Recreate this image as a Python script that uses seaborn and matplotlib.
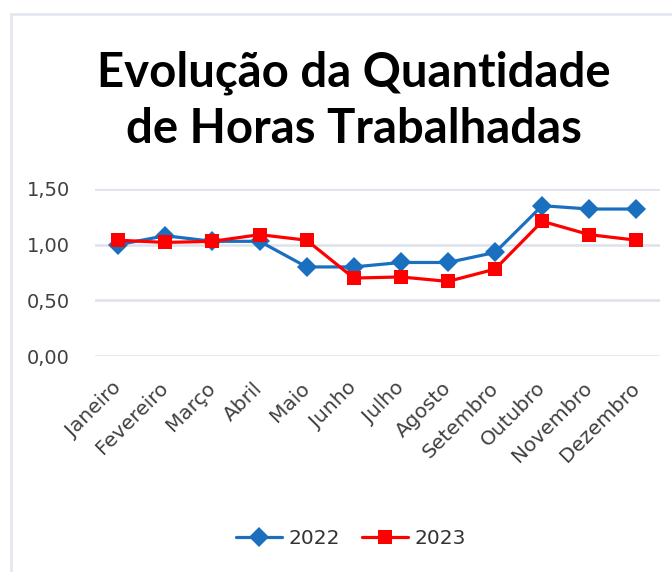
import pandas as pd
import matplotlib
matplotlib.use("Agg")
import matplotlib.pyplot as plt
import seaborn as sns
from matplotlib.patches import Rectangle

# =========================
# dados
# =========================
meses = ["Janeiro", "Fevereiro", "Março", "Abril", "Maio", "Junho",
         "Julho", "Agosto", "Setembro", "Outubro", "Novembro", "Dezembro"]
horas_2022 = [1.00, 1.08, 1.03, 1.03, 0.80, 0.80, 0.84, 0.84, 0.93, 1.35, 1.32, 1.32]
horas_2023 = [1.04, 1.02, 1.03, 1.09, 1.04, 0.70, 0.71, 0.67, 0.78, 1.21, 1.09, 1.04]
anos = ["2022", "2023"]
yticks = [0.0, 0.5, 1.0, 1.5]

df = pd.DataFrame({
    "mes": meses * 2,
    "valor": horas_2022 + horas_2023,
    "ano": [anos[0]] * 12 + [anos[1]] * 12,
})

sns.set_theme(style="white")
plt.rcParams["font.family"] = ["DejaVu Sans"]

fig = plt.figure(figsize=(6.72, 5.72), dpi=100)
ax = fig.add_axes([0.141, 0.3776, 0.841, 0.292])

# moldura cinza clara
fig.patches.append(Rectangle((11 / 672, -0.01), 1.0, 1 - 14 / 572 + 0.01,
                             transform=fig.transFigure, fill=False,
                             edgecolor="#e3e7ee", linewidth=2))

cores = {"2022": "#1a6fbf", "2023": "#ff0000"}
sns.lineplot(data=df, x="mes", y="valor", hue="ano", style="ano",
             palette=cores, markers={"2022": "D", "2023": "s"},
             dashes=False, sort=False, linewidth=2.3, ax=ax,
             markersize=10, markeredgewidth=0)

ax.set_xlim(-0.5, 11.5)
ax.set_ylim(0, 1.5)
ax.set_yticks(yticks)
ax.set_yticklabels([f"{v:.2f}".replace(".", ",") for v in yticks])
ax.grid(axis="y", color="#dde2ea", linewidth=1.8)
ax.set_axisbelow(True)
for s in ax.spines.values():
    s.set_visible(False)
ax.tick_params(axis="y", length=0, labelsize=14, colors="#404040", pad=18)
ax.tick_params(axis="x", length=0, labelsize=14.5, colors="#404040", pad=21)
plt.setp(ax.get_xticklabels(), rotation=45, ha="right", va="center",
         rotation_mode="anchor")
ax.set_xlabel("")
ax.set_ylabel("")

fig.text(0.526, 0.824, "Evolução da Quantidade\nde Horas Trabalhadas",
         ha="center", va="center", fontsize=34, fontweight="bold",
         family=["Lato", "DejaVu Sans"], linespacing=1.32, color="black")

leg = ax.legend(loc="center", bbox_to_anchor=(0.522, 0.058),
                bbox_transform=fig.transFigure, ncol=2, frameon=False,
                fontsize=14.5, handlelength=2.3, columnspacing=1.1,
                handletextpad=0.3)
for t in leg.get_texts():
    t.set_color("#333333")

fig.savefig("out.png", dpi=100, facecolor="white")
